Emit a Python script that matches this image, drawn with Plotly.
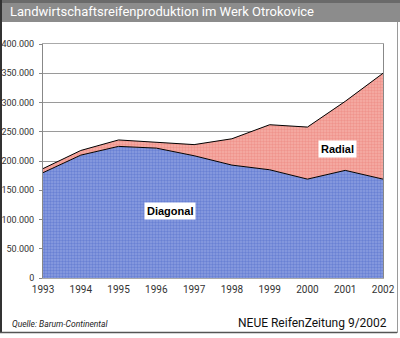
import plotly.graph_objects as go

years = [1993, 1994, 1995, 1996, 1997, 1998, 1999, 2000, 2001, 2002]
diagonal = [180000, 210000, 225000, 222000, 209000, 193000, 185000, 169000, 184000, 169000]
radial = [7000, 8000, 11000, 10000, 19000, 45000, 77000, 89000, 118000, 181000]

title_text = "Landwirtschaftsreifenproduktion im Werk Otrokovice"
source_text = "Quelle: Barum-Continental"
brand_text = "NEUE ReifenZeitung 9/2002"

W, H = 400, 338
L, R, T, B = 43, 17, 44, 60
pw, ph = W - L - R, H - T - B


def px(x):
    return (x - L) / pw


def py(y):
    return (H - B - y) / ph


fig = go.Figure()
fig.add_trace(go.Scatter(
    x=years, y=diagonal, name="Diagonal", stackgroup="one", mode="lines",
    line=dict(color="#000000", width=1),
    fillcolor="#6f86d6",
    fillpattern=dict(shape=".", size=3, solidity=0.5, fgcolor="#4864c6", bgcolor="#8b9ee0"),
))
fig.add_trace(go.Scatter(
    x=years, y=radial, name="Radial", stackgroup="one", mode="lines",
    line=dict(color="#000000", width=1),
    fillcolor="#f29c94",
    fillpattern=dict(shape=".", size=3, solidity=0.5, fgcolor="#e97a72", bgcolor="#f5aea6"),
))

label_font = dict(family="Liberation Sans, Arial", size=11, color="#000000")
fig.add_annotation(x=1996.36, y=114000, text="<b>Diagonal</b>", showarrow=False,
                   bgcolor="#ffffff", borderpad=2, font=label_font)
fig.add_annotation(x=2000.8, y=221000, text="<b>Radial</b>", showarrow=False,
                   bgcolor="#ffffff", borderpad=2, font=label_font)

shapes = [
    # title bar
    dict(type="rect", xref="paper", yref="paper", x0=px(0), x1=px(400), y0=py(22), y1=py(0),
         fillcolor="#8c8c8c", line_width=0, layer="below"),
    dict(type="rect", xref="paper", yref="paper", x0=px(0), x1=px(400), y0=py(3), y1=py(0),
         fillcolor="#6a6a6a", line_width=0, layer="below"),
    # outer frame
    dict(type="line", xref="paper", yref="paper", x0=px(1), x1=px(1), y0=py(333), y1=py(0),
         line=dict(color="#333333", width=2)),
    dict(type="line", xref="paper", yref="paper", x0=px(0), x1=px(397), y0=py(332.5), y1=py(332.5),
         line=dict(color="#555555", width=1.5)),
    dict(type="line", xref="paper", yref="paper", x0=px(397.5), x1=px(397.5), y0=py(333), y1=py(22),
         line=dict(color="#9a9a9a", width=1)),
]

fig.add_annotation(xref="paper", yref="paper", x=px(8), y=py(11), xanchor="left", yanchor="middle",
                   text=title_text, showarrow=False,
                   font=dict(family="Roboto, Liberation Sans", size=13, color="#ffffff"))
fig.add_annotation(xref="paper", yref="paper", x=px(10), y=py(324), xanchor="left", yanchor="middle",
                   text="<i>" + source_text + "</i>", showarrow=False,
                   font=dict(family="Roboto, Liberation Sans", size=8.5, color="#222222"))
fig.add_annotation(xref="paper", yref="paper", x=px(389), y=py(323), xanchor="right", yanchor="middle",
                   text=brand_text, showarrow=False,
                   font=dict(family="Roboto, Liberation Sans", size=12, color="#111111"))

x_tick_font = dict(family="Roboto, Liberation Sans", size=10, color="#333333")
y_tick_font = dict(family="Roboto, Liberation Sans", size=9, color="#333333")
fig.update_layout(
    width=W, height=H,
    margin=dict(l=L, r=R, t=T, b=B),
    paper_bgcolor="#ffffff", plot_bgcolor="#ffffff",
    showlegend=False,
    separators=",.",
    shapes=shapes,
    xaxis=dict(range=[1993, 2002], tickmode="array", tickvals=years,
               ticktext=[str(y) for y in years], showgrid=False, ticks="", automargin=False,
               showline=True, linecolor="#aaaaaa", mirror=True, tickfont=x_tick_font, ticklabelstandoff=2),
    yaxis=dict(range=[0, 400000], dtick=50000, tickformat=",d", showgrid=True, automargin=False,
               gridcolor="#9a9a9a", gridwidth=1, ticks="outside", ticklen=3, tickcolor="#888888",
               showline=True, linecolor="#888888", mirror=True, tickfont=y_tick_font, zeroline=False,
               ticklabelstandoff=3),
)

fig.write_html("out.html")
